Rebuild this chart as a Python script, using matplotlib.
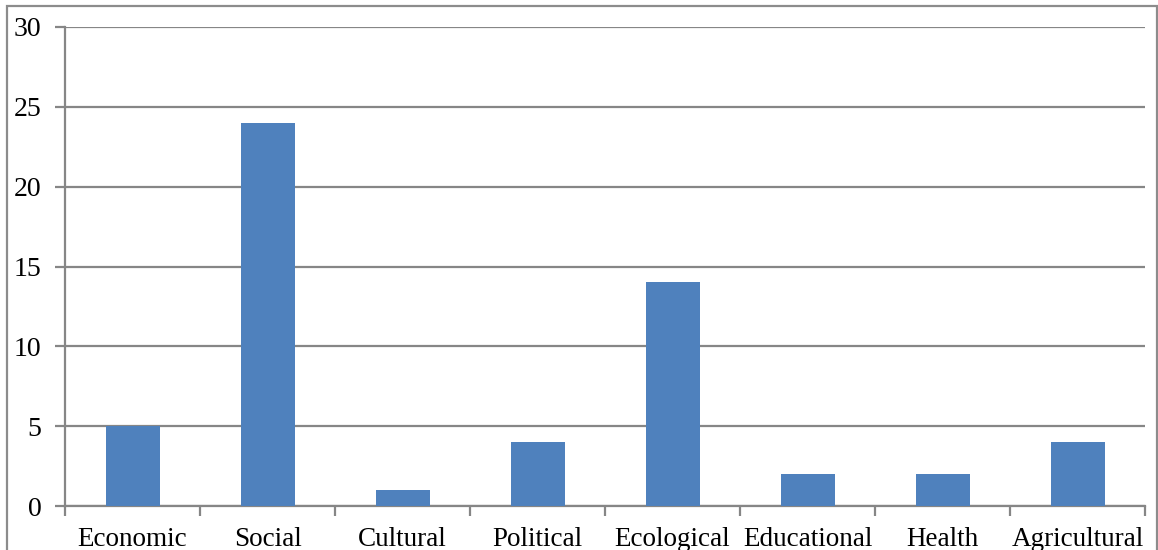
import matplotlib.pyplot as plt
import numpy as np
from matplotlib.patches import Rectangle

categories = ["Economic", "Social", "Cultural", "Political", "Ecological",
              "Educational", "Health", "Agricultural"]
counts = [5, 24, 1, 4, 14, 2, 2, 4]
y_ticks = [0, 5, 10, 15, 20, 25, 30]

plt.rcParams['font.family'] = ['Liberation Serif', 'DejaVu Serif']

fig = plt.figure(figsize=(11.58, 5.5), dpi=100)
ax = fig.add_axes([65/1158, 44/550, 1080/1158, 479/550])

grid_col = "#868686"
x = np.arange(len(categories))
ax.bar(x, counts, 0.4, color="#4F81BD", zorder=3)

ax.set_xlim(-0.5, len(categories) - 0.5)
ax.set_ylim(0, 30)
ax.set_yticks(y_ticks)
ax.yaxis.grid(True, color=grid_col, linewidth=1.6, zorder=0)

# category labels sit on minor ticks, boundary marks on major ticks
ax.set_xticks(np.arange(len(categories) + 1) - 0.5)
ax.set_xticklabels([])
ax.set_xticks(x, minor=True)
ax.set_xticklabels(categories, minor=True)
ax.tick_params(axis="x", which="major", length=7, width=1.6, color=grid_col)
ax.tick_params(axis="x", which="minor", length=0, pad=15, labelsize=19.5)
ax.tick_params(axis="y", length=7, width=1.6, color=grid_col, pad=10, labelsize=20)

for side in ["top", "right"]:
    ax.spines[side].set_visible(False)
for side in ["left", "bottom"]:
    ax.spines[side].set_color(grid_col)
    ax.spines[side].set_linewidth(1.6)

# outer chart frame
fig.patches.append(Rectangle((7/1158, -0.1), 1150/1158, 1.1 - 6/550,
                             transform=fig.transFigure, fill=False,
                             edgecolor="#8c8c8c", linewidth=1.6, clip_on=False))

fig.savefig("out.png", dpi=100)
